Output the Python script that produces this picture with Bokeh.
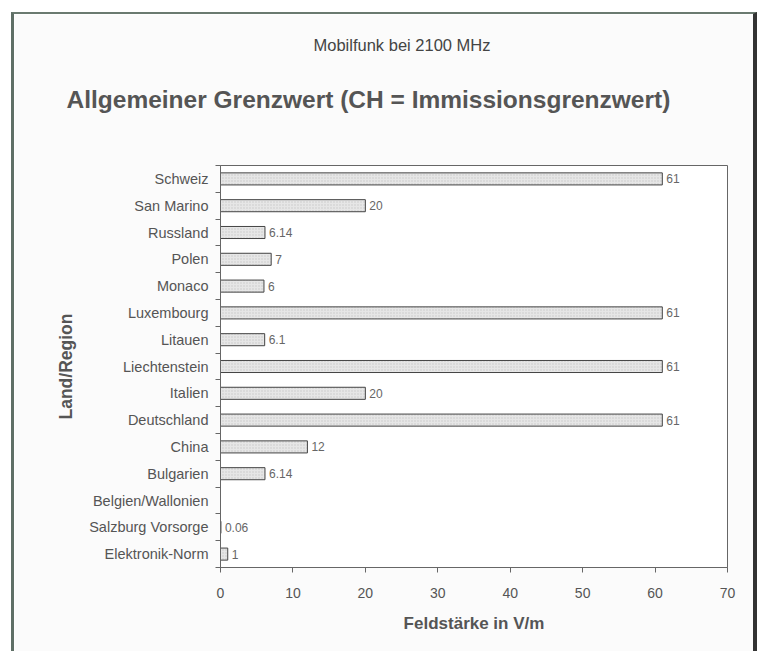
from bokeh.plotting import figure
from bokeh.models import FixedTicker, Title, Range1d
from bokeh.embed import file_html
from bokeh.resources import INLINE
from bokeh.core.properties import value

regions = ["Schweiz", "San Marino", "Russland", "Polen", "Monaco", "Luxembourg",
           "Litauen", "Liechtenstein", "Italien", "Deutschland", "China",
           "Bulgarien", "Belgien/Wallonien", "Salzburg Vorsorge", "Elektronik-Norm"]
values = [61, 20, 6.14, 7, 6, 61, 6.1, 61, 20, 61, 12, 6.14, None, 0.06, 1]
value_labels = ["61", "20", "6.14", "7", "6", "61", "6.1", "61", "20", "61", "12",
                "6.14", "", "0.06", "1"]
x_ticks = [0, 10, 20, 30, 40, 50, 60, 70]

n = len(regions)
pos = [n - i for i in range(n)]
bar_y = [p_ for p_, v in zip(pos, values) if v is not None]
bar_v = [v for v in values if v is not None]
lab_t = [t for t, v in zip(value_labels, values) if v is not None]

FONT = "Liberation Sans"
GRAY = "#555555"

sub_title = Title(text="Mobilfunk bei 2100 MHz", align="left", offset=93, standoff=0,
                  text_font=FONT, text_font_size="16.5px", text_font_style="normal",
                  text_color="#444444")

p = figure(width=739, height=637, output_backend="svg", toolbar_location=None,
           frame_width=507, frame_height=402, title=sub_title,
           min_border_left=206, min_border_right=26, min_border_top=151, min_border_bottom=84,
           x_range=Range1d(0, 70), y_range=Range1d(0.5, n + 0.5))
# spacer between the frame and the main heading
p.add_layout(Title(text=" ", standoff=20, text_font_size="1px"), "above")
p.add_layout(Title(text="Allgemeiner Grenzwert (CH = Immissionsgrenzwert)", align="left",
                   offset=-154, standoff=60, text_font=FONT, text_font_size="24.5px",
                   text_font_style="bold", text_color=GRAY), "above")
p.border_fill_color = "#fbfbfb"
p.background_fill_color = "#ffffff"
p.outline_line_color = "#666666"
p.outline_line_width = 1
p.grid.visible = False

p.hbar(y=bar_y, right=bar_v, left=0, height=0.45, fill_color="#e6e6e6",
       line_color="#444444", line_width=1, hatch_pattern="dot", hatch_color="#b0b0b0",
       hatch_scale=3, hatch_alpha=0.6)
p.text(x=bar_v, y=bar_y, text=lab_t, x_offset=4, text_baseline="middle",
       text_font=value(FONT), text_font_size="12px", text_color="#666666")

xa = p.xaxis[0]
xa.ticker = FixedTicker(ticks=x_ticks)
xa.minor_tick_line_color = None
xa.major_tick_out = 5
xa.major_tick_in = 0
xa.major_label_standoff = 15
xa.major_label_text_font = FONT
xa.major_label_text_font_size = "14px"
xa.major_label_text_color = GRAY
xa.axis_line_color = "#666666"
xa.major_tick_line_color = "#666666"
xa.axis_label = "Feldstärke in V/m"
xa.axis_label_text_font = FONT
xa.axis_label_text_font_size = "17px"
xa.axis_label_text_font_style = "bold"
xa.axis_label_text_color = GRAY
xa.axis_label_standoff = 13

ya = p.yaxis[0]
ya.ticker = FixedTicker(ticks=pos, minor_ticks=[i + 0.5 for i in range(n + 1)])
ya.major_label_overrides = {pv: r for pv, r in zip(pos, regions)}
ya.major_tick_out = 0
ya.major_tick_in = 0
ya.minor_tick_out = 5
ya.minor_tick_in = 0
ya.minor_tick_line_color = "#666666"
ya.major_label_standoff = 7
ya.major_label_text_font = FONT
ya.major_label_text_font_size = "14.5px"
ya.major_label_text_color = GRAY
ya.axis_line_color = "#666666"
ya.axis_label = "Land/Region"
ya.axis_label_text_font = FONT
ya.axis_label_text_font_size = "17.5px"
ya.axis_label_text_font_style = "bold"
ya.axis_label_text_color = GRAY
ya.axis_label_standoff = 10

p.styles = {"border-left": "3px solid #5f6f66", "border-right": "4px solid #333",
            "border-top": "2px solid #6a7a70",
            "margin-left": "11px", "margin-top": "12px"}

open("out.html", "w").write(file_html(p, INLINE))
